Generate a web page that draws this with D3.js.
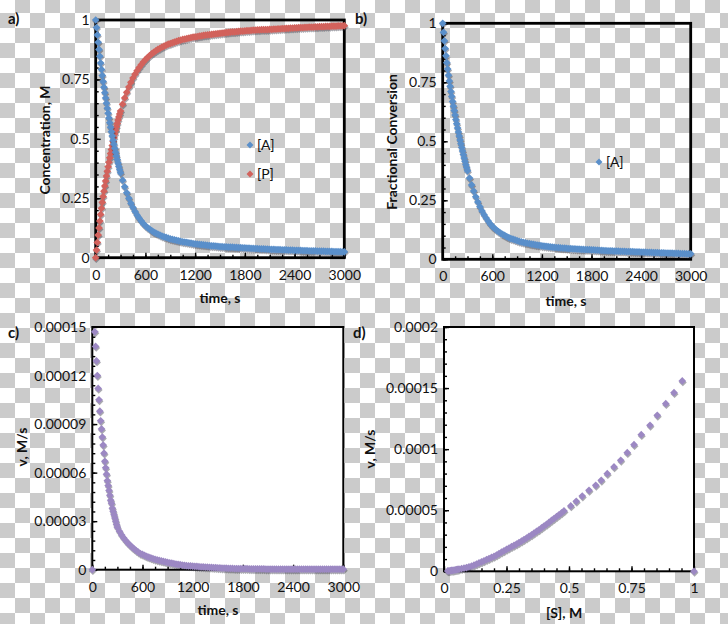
<!DOCTYPE html>
<html><head><meta charset="utf-8">
<script src="https://cdn.jsdelivr.net/npm/d3@7"></script>
<style>
body{margin:0;background:#fff}
svg{display:block}
text{font-family:Lato,"Open Sans",sans-serif;fill:#111}
</style>
</head><body>
<svg id="chart" width="728" height="624"></svg>
<script>
// ---------- DATA ----------
// sampling times (s) shared by panels a and b
const timeAB = [0,10,20,30,40,50,60,70,80,90,100,110,120,130,140,150,160,170,180,190,200,210,220,230,240,250,260,270,280,290,300,
 325,350,375,400,425,450,475,500,525,550,575,600,
 625,650,675,700,725,750,775,800,825,850,875,900,925,950,975,1000,1025,1050,1075,1100,1125,1150,1175,1200,
 1225,1250,1275,1300,1325,1350,1375,1400,1425,1450,1475,1500,
 1525,1550,1575,1600,1625,1650,1675,1700,1725,1750,1775,1800,
 1825,1850,1875,1900,1925,1950,1975,2000,2025,2050,2075,2100,
 2125,2150,2175,2200,2225,2250,2275,2300,2325,2350,2375,2400,
 2425,2450,2475,2500,2525,2550,2575,2600,2625,2650,2675,2700,
 2725,2750,2775,2800,2825,2850,2875,2900,2925,2950,2975,3000];
// panel a: [A]
const concA = [1.000,0.968,0.937,0.906,0.876,0.847,0.819,0.792,0.766,0.741,0.717,0.694,0.672,0.650,0.629,0.608,0.588,0.568,0.549,0.530,0.512,0.494,0.477,0.460,0.444,0.428,0.413,0.398,0.384,0.370,0.357,
 0.326,0.298,0.273,0.250,0.229,0.211,0.194,0.179,0.166,0.154,0.143,0.134,
 0.127,0.120,0.114,0.108,0.103,0.099,0.095,0.091,0.088,0.085,0.082,0.079,0.077,0.075,0.073,0.071,0.069,0.067,0.0655,0.064,0.0625,0.061,0.0595,0.058,
 0.057,0.056,0.055,0.054,0.053,0.052,0.051,0.050,0.0495,0.049,0.048,0.047,
 0.0465,0.046,0.0455,0.045,0.0445,0.044,0.0435,0.043,0.0425,0.042,0.0415,0.041,
 0.0405,0.040,0.0395,0.039,0.0385,0.038,0.0375,0.037,0.0367,0.0363,0.036,0.0355,
 0.035,0.0347,0.0343,0.034,0.0337,0.0333,0.033,0.0327,0.0323,0.032,0.0317,0.0313,
 0.031,0.0307,0.0303,0.030,0.0297,0.0293,0.029,0.0288,0.0285,0.0283,0.028,0.0278,
 0.0275,0.0273,0.027,0.0268,0.0265,0.0263,0.026,0.0258,0.0255,0.0253,0.025,0.0248];
// panel a: [P]
const concP = [0.000,0.032,0.064,0.095,0.125,0.154,0.182,0.208,0.233,0.257,0.280,0.302,0.323,0.344,0.364,0.383,0.402,0.420,0.438,0.455,0.472,0.489,0.505,0.521,0.536,0.551,0.565,0.579,0.592,0.605,0.617,
 0.646,0.672,0.696,0.718,0.738,0.756,0.772,0.787,0.800,0.812,0.823,0.833,
 0.842,0.850,0.857,0.864,0.870,0.876,0.881,0.886,0.890,0.894,0.898,0.901,0.904,0.907,0.910,0.913,0.915,0.918,0.920,0.922,0.924,0.926,0.928,0.929,
 0.930,0.932,0.933,0.935,0.936,0.937,0.938,0.940,0.941,0.942,0.943,0.944,
 0.945,0.946,0.947,0.948,0.949,0.950,0.950,0.951,0.952,0.953,0.953,0.954,
 0.955,0.955,0.956,0.957,0.957,0.958,0.958,0.959,0.959,0.960,0.960,0.961,
 0.961,0.962,0.962,0.963,0.963,0.964,0.964,0.965,0.965,0.966,0.966,0.967,
 0.967,0.968,0.968,0.968,0.969,0.969,0.970,0.970,0.970,0.971,0.971,0.972,
 0.972,0.972,0.973,0.973,0.973,0.974,0.974,0.974,0.975,0.975,0.975,0.976];
// panel b: fractional conversion of A
const fracB = [1.000,0.962,0.926,0.893,0.862,0.833,0.806,0.780,0.756,0.733,0.711,0.690,0.669,0.649,0.630,0.611,0.592,0.574,0.556,0.539,0.522,0.506,0.490,0.474,0.459,0.444,0.429,0.415,0.401,0.388,0.375,
 0.344,0.315,0.289,0.265,0.243,0.223,0.205,0.189,0.175,0.162,0.150,0.140,
 0.132,0.124,0.117,0.111,0.106,0.101,0.096,0.092,0.088,0.085,0.082,0.079,0.076,0.074,0.072,0.070,0.068,0.066,0.0645,0.063,0.0615,0.060,0.0585,0.057,
 0.056,0.055,0.054,0.053,0.052,0.051,0.050,0.049,0.048,0.0475,0.047,0.046,
 0.0455,0.045,0.0445,0.044,0.0435,0.043,0.0425,0.042,0.0415,0.041,0.0405,0.040,
 0.0395,0.039,0.0385,0.038,0.0375,0.037,0.0365,0.036,0.0357,0.0353,0.035,0.0347,
 0.0343,0.034,0.0337,0.0333,0.033,0.0327,0.0323,0.032,0.0317,0.0313,0.031,0.0307,
 0.0303,0.030,0.0297,0.0293,0.029,0.0287,0.0283,0.028,0.0277,0.0273,0.027,0.0267,
 0.0263,0.026,0.0257,0.0253,0.025,0.0247,0.0243,0.024,0.0238,0.0235,0.0233,0.023];
// panel c: rate vs time
const timeV = [0,30,40,50,60,70,80,90,100,110,120,130,140,150,160,170,180,190,200,210,220,230,240,250,260,270,280,290,300,
 325,350,375,400,425,450,475,500,525,550,575,600,
 625,650,675,700,725,750,775,800,825,850,875,900,925,950,975,1000,1025,1050,1075,1100,1125,1150,1175,1200,
 1225,1250,1275,1300,1325,1350,1375,1400,1425,1450,1475,1500,
 1525,1550,1575,1600,1625,1650,1675,1700,1725,1750,1775,1800,
 1825,1850,1875,1900,1925,1950,1975,2000,2025,2050,2075,2100,
 2125,2150,2175,2200,2225,2250,2275,2300,2325,2350,2375,2400,
 2425,2450,2475,2500,2525,2550,2575,2600,2625,2650,2675,2700,
 2725,2750,2775,2800,2825,2850,2875,2900,2925,2950,2975,3000];
const rateV = [0,1.47e-4,1.38e-4,1.29e-4,1.20e-4,1.12e-4,1.05e-4,9.8e-5,9.2e-5,8.7e-5,8.2e-5,7.7e-5,7.2e-5,6.7e-5,6.3e-5,5.9e-5,5.5e-5,5.2e-5,4.9e-5,4.6e-5,4.3e-5,4.1e-5,3.8e-5,3.6e-5,3.4e-5,3.2e-5,3.0e-5,2.8e-5,2.62e-5,
 2.37e-5,2.15e-5,1.96e-5,1.80e-5,1.65e-5,1.52e-5,1.40e-5,1.28e-5,1.18e-5,1.08e-5,1.00e-5,9.4e-6,
 8.8e-6,8.2e-6,7.7e-6,7.3e-6,6.8e-6,6.4e-6,6.0e-6,5.7e-6,5.4e-6,5.1e-6,4.8e-6,4.5e-6,4.2e-6,4.0e-6,3.7e-6,3.5e-6,3.3e-6,3.1e-6,2.9e-6,2.7e-6,2.5e-6,2.4e-6,2.3e-6,2.2e-6,
 2.1e-6,2.0e-6,1.9e-6,1.8e-6,1.7e-6,1.6e-6,1.55e-6,1.5e-6,1.4e-6,1.35e-6,1.3e-6,1.2e-6,
 1.1e-6,1.0e-6,9.5e-7,9e-7,8.5e-7,8e-7,7.5e-7,7e-7,7e-7,6.5e-7,6.5e-7,6e-7,
 6e-7,6e-7,5.5e-7,5.5e-7,5e-7,5e-7,5e-7,4.5e-7,4.5e-7,4.5e-7,4e-7,4e-7,
 4e-7,4e-7,4e-7,3.5e-7,3.5e-7,3.5e-7,3.5e-7,3.5e-7,3e-7,3e-7,3e-7,3e-7,
 3e-7,3e-7,3e-7,3e-7,3e-7,3e-7,3e-7,3e-7,3e-7,3e-7,3e-7,3e-7,
 3e-7,3e-7,3e-7,3e-7,3e-7,3e-7,3e-7,3e-7,3e-7,3e-7,3e-7,3e-7];
// panel d: rate vs substrate concentration
const substrateS = [1.000,0.953,0.920,0.887,0.853,0.824,0.789,0.760,0.733,0.707,0.680,0.653,0.629,0.607,0.580,0.553,0.529,0.507,0.480,
 0.47,0.46,0.45,0.44,0.43,0.42,0.41,0.40,0.39,0.38,0.37,0.36,0.35,0.34,0.33,0.32,0.31,0.30,0.29,0.28,0.27,0.26,0.25,0.24,0.23,0.22,0.21,0.20,
 0.19,0.18,0.17,0.16,0.15,0.14,0.13,0.12,0.11,0.10,0.09,0.08,0.07,0.06,0.055,0.05,0.045,0.04,0.035,0.03,0.025,0.02,0.015];
const rateS = [0,1.558e-4,1.462e-4,1.372e-4,1.277e-4,1.195e-4,1.118e-4,1.037e-4,9.71e-5,9.09e-5,8.54e-5,7.99e-5,7.45e-5,7.04e-5,6.63e-5,6.16e-5,5.73e-5,5.35e-5,4.94e-5,
 4.78e-5,4.62e-5,4.47e-5,4.32e-5,4.16e-5,4.00e-5,3.85e-5,3.70e-5,3.55e-5,3.40e-5,3.26e-5,3.12e-5,2.98e-5,2.85e-5,2.72e-5,2.60e-5,2.47e-5,2.35e-5,2.23e-5,2.12e-5,2.01e-5,1.90e-5,1.79e-5,1.68e-5,1.56e-5,1.45e-5,1.33e-5,1.22e-5,
 1.13e-5,1.04e-5,9.5e-6,8.6e-6,7.7e-6,6.8e-6,5.9e-6,5.0e-6,4.3e-6,3.7e-6,3.1e-6,2.6e-6,2.1e-6,1.7e-6,1.5e-6,1.3e-6,1.15e-6,1.0e-6,8.5e-7,7e-7,5e-7,3.5e-7,2.5e-7];

const timeTicks = [0,600,1200,1800,2400,3000];
const timeTickLabels = ["0","600","1200","1800","2400","3000"];
const fracTicks = [0,0.25,0.5,0.75,1];
const fracTickLabels = ["0","0.25","0.5","0.75","1"];
const rateTicksC = [0,0.00003,0.00006,0.00009,0.00012,0.00015];
const rateTickLabelsC = ["0","0.00003","0.00006","0.00009","0.00012","0.00015"];
const rateTicksD = [0,0.00005,0.0001,0.00015,0.0002];
const rateTickLabelsD = ["0","0.00005","0.0001","0.00015","0.0002"];
const sTicks = [0,0.25,0.5,0.75,1];
const sTickLabels = ["0","0.25","0.5","0.75","1"];

// ---------- STYLE ----------
const BLUE="#5a8fca", RED="#d2625c", PURPLE="#9c88c3", GRAY="#cbcbcb";
const W=728, H=624;
const svg=d3.select("#chart");

const defs=svg.append("defs");
const pat=defs.append("pattern").attr("id","chk").attr("patternUnits","userSpaceOnUse")
  .attr("x",0).attr("y",-2).attr("width",30).attr("height",30);
pat.append("rect").attr("width",30).attr("height",30).attr("fill","#fff");
pat.append("rect").attr("x",15).attr("y",0).attr("width",15).attr("height",15).attr("fill",GRAY);
pat.append("rect").attr("x",0).attr("y",15).attr("width",15).attr("height",15).attr("fill",GRAY);
svg.append("rect").attr("width",W).attr("height",H).attr("fill","url(#chk)");

const marker=d3.symbol(d3.symbolSquare,30);
const markerSmall=d3.symbol(d3.symbolSquare,24);

function range(a,b,s){const r=[];for(let v=a;v<=b+1e-12;v+=s)r.push(+v.toPrecision(10));return r;}

function panel(c){
  const x=d3.scaleLinear().domain(c.xDomain).range([c.left,c.right]);
  const y=d3.scaleLinear().domain(c.yDomain).range([c.bottom,c.top]);
  const g=svg.append("g");
  if(c.fill) g.append("rect").attr("x",c.left).attr("y",c.top)
     .attr("width",c.right-c.left).attr("height",c.bottom-c.top).attr("fill",c.fill);

  const xm=d3.axisBottom(x).tickValues(c.xMinor).tickSize(-3).tickFormat("");
  const ym=d3.axisLeft(y).tickValues(c.yMinor).tickSize(-3).tickFormat("");
  g.append("g").attr("transform",`translate(0,${c.bottom})`).call(xm);
  g.append("g").attr("transform",`translate(${c.left},0)`).call(ym);
  const xa=d3.axisBottom(x).tickValues(c.xTicks).tickSize(-5).tickPadding(12)
     .tickFormat((d,i)=>c.xLabels[i]);
  const ya=d3.axisLeft(y).tickValues(c.yTicks).tickSize(-5).tickPadding(6)
     .tickFormat((d,i)=>c.yLabels[i]);
  g.append("g").attr("transform",`translate(0,${c.bottom})`).call(xa);
  g.append("g").attr("transform",`translate(${c.left},0)`).call(ya);
  g.selectAll(".domain").remove();
  g.selectAll(".tick line").attr("stroke","#000").attr("stroke-width",1.4);
  g.selectAll(".tick text").attr("font-size",14).attr("font-family","Lato").attr("fill","#111");

  g.append("rect").attr("x",c.left).attr("y",c.top)
   .attr("width",c.right-c.left).attr("height",c.bottom-c.top)
   .attr("fill","none").attr("stroke","#000").attr("stroke-width",c.frameW);

  c.series.forEach(s=>{
    const pts=s.xs.map((v,i)=>[x(v),y(s.ys[i])]);
    g.append("g").attr("opacity",0.4).selectAll("path").data(pts).join("path")
      .attr("d",marker).attr("fill","#2a2a3a")
      .attr("transform",d=>`translate(${d[0]+0.6},${d[1]+1.5}) rotate(45)`);
    g.append("g").selectAll("path").data(pts).join("path")
      .attr("d",marker).attr("fill",s.color)
      .attr("transform",d=>`translate(${d[0]},${d[1]}) rotate(45)`);
  });

  g.append("text").attr("x",c.xTitle[0]).attr("y",c.xTitle[1]).attr("text-anchor","middle")
   .attr("font-weight","bold").attr("font-size",14).text(c.xTitleText);
  g.append("text").attr("transform",`translate(${c.yTitle[0]},${c.yTitle[1]}) rotate(-90)`)
   .attr("dy","0.35em").attr("text-anchor","middle")
   .attr("font-weight","bold").attr("font-size",14).text(c.yTitleText);
  g.append("text").attr("x",c.tag[0]).attr("y",c.tag[1]).attr("font-weight","bold")
   .attr("font-size",15).text(c.tagText);

  (c.legend||[]).forEach(l=>{
    g.append("path").attr("d",markerSmall).attr("fill",l.color)
     .attr("transform",`translate(${l.x},${l.y}) rotate(45)`);
    g.append("text").attr("x",l.x+7).attr("y",l.y).attr("dy","0.35em")
     .attr("font-size",14).text(l.label);
  });
}

panel({left:95.7,right:344.3,top:20,bottom:257.7,frameW:2.8,
  xDomain:[0,3000],yDomain:[0,1],
  xTicks:timeTicks,xLabels:timeTickLabels,yTicks:fracTicks,yLabels:fracTickLabels,
  xMinor:range(0,3000,150),yMinor:range(0,1,0.05),
  series:[{xs:timeAB,ys:concP,color:RED},{xs:timeAB,ys:concA,color:BLUE}],
  xTitle:[220,303],xTitleText:"time, s",
  yTitle:[45,140],yTitleText:"Concentration, M",
  tag:[8,24],tagText:"a)",
  legend:[{x:250,y:145,color:BLUE,label:"[A]"},{x:250,y:174,color:RED,label:"[P]"}]});

panel({left:442.7,right:690.7,top:23.3,bottom:259.3,frameW:2.8,
  xDomain:[0,3000],yDomain:[0,1],
  xTicks:timeTicks,xLabels:timeTickLabels,yTicks:fracTicks,yLabels:fracTickLabels,
  xMinor:range(0,3000,150),yMinor:range(0,1,0.05),
  series:[{xs:timeAB,ys:fracB,color:BLUE}],
  xTitle:[566,306],xTitleText:"time, s",
  yTitle:[392,142],yTitleText:"Fractional Conversion",
  tag:[355,24],tagText:"b)",
  legend:[{x:599,y:162,color:BLUE,label:"[A]"}]});

panel({left:92.3,right:343.3,top:327,bottom:569.7,frameW:2,fill:"#fff",
  xDomain:[0,3000],yDomain:[0,0.00015],
  xTicks:timeTicks,xLabels:timeTickLabels,yTicks:rateTicksC,yLabels:rateTickLabelsC,
  xMinor:range(0,3000,150),yMinor:range(0,0.00015,0.000006),
  series:[{xs:timeV,ys:rateV,color:PURPLE}],
  xTitle:[218,615],xTitleText:"time, s",
  yTitle:[22,447],yTitleText:"v, M/s",
  tag:[8,338],tagText:"c)"});

panel({left:444,right:694,top:327,bottom:571.3,frameW:2,fill:"#fff",
  xDomain:[0,1],yDomain:[0,0.0002],
  xTicks:sTicks,xLabels:sTickLabels,yTicks:rateTicksD,yLabels:rateTickLabelsD,
  xMinor:range(0,1,0.05),yMinor:range(0,0.0002,0.00001),
  series:[{xs:substrateS,ys:rateS,color:PURPLE}],
  xTitle:[564,618],xTitleText:"[S], M",
  yTitle:[370,449],yTitleText:"v, M/s",
  tag:[353,338],tagText:"d)"});
</script>
</body></html>
